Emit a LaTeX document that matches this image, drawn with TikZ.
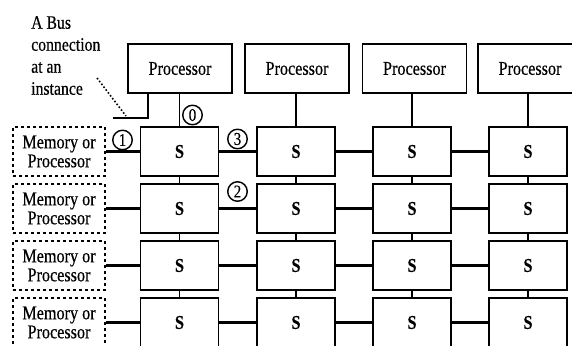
\documentclass[tikz,border=0pt]{standalone}
\usepackage{fontspec}
\setmainfont[FakeStretch=0.83,FakeBold=0.4]{Liberation Serif}
\begin{document}
\begin{tikzpicture}[x=1pt,y=-1pt,
  sbox/.style={draw, line width=1.5pt, minimum width=78pt, minimum height=49pt, inner sep=0pt, font=\fontsize{19.5}{19}\selectfont\bfseries},
  proc/.style={draw, line width=1.5pt, minimum width=104pt, minimum height=49pt, inner sep=0pt, font=\fontsize{19.5}{19}\selectfont},
  mem/.style={draw, dashed, line width=1.5pt, minimum width=92pt, minimum height=49pt, inner sep=0pt, align=center, font=\fontsize{19.5}{19}\selectfont},
  hlink/.style={line width=2.2pt},
  vlink/.style={line width=1.2pt},
  num/.style={circle, draw, line width=1.4pt, inner sep=0pt, minimum size=19.5pt, font=\fontsize{18}{18}\selectfont},
  note/.style={align=left, anchor=north west, inner sep=0pt, font=\fontsize{19}{22}\selectfont}]
\useasboundingbox (0,0) rectangle (572,345);
\clip (0,0) rectangle (572,345);
% processors
\foreach \c/\x in {1/180,2/297,3/414.5,4/530}
  \node[proc] (p\c) at (\x,68.5) {Processor};
% switches and memories
\foreach \r/\y in {1/151.5,2/208.5,3/265.5,4/322.5}{
  \node[mem] (m\r) at (59,\y) {Memory or\\Processor};
  \foreach \c/\x in {1/179.5,2/296,3/412,4/528}
    \node[sbox] (s\r\c) at (\x,\y) {S};
}
% links
\foreach \c in {1,2,3,4}
  \draw[vlink] (s1\c.north |- p\c.south) -- (s1\c.north);
\foreach \r in {1,2,3,4}{
  \draw[hlink] (m\r.east) -- (s\r1.west);
  \foreach \c [evaluate=\c as \n using int(\c+1)] in {1,2,3}
    \draw[hlink] (s\r\c.east) -- (s\r\n.west);
}
\foreach \r [evaluate=\r as \n using int(\r+1)] in {1,2,3}
  \foreach \c in {1,2,3,4}
    \draw[vlink] (s\r\c.south) -- (s\n\c.north);
% bus connection
\coordinate (bt) at (148,93);
\coordinate (bc) at (148,118);
\coordinate (be) at (113,118);
\draw[line width=1.8pt] (bt) -- (bc) -- (be);
\node[note] (txt) at (31,16) {A Bus\\connection\\at an\\instance};
\coordinate (d1) at (97,78);
\coordinate (d2) at (126,116);
\draw[line width=1.6pt, dotted] (d1) -- (d2);
% numbers
\node[num] (n0) at (192.5,115) {0};
\node[num] (n1) at (122.5,140) {1};
\node[num] (n3) at (237.5,139) {3};
\node[num] (n2) at (237.5,191.5) {2};
\end{tikzpicture}
\end{document}
